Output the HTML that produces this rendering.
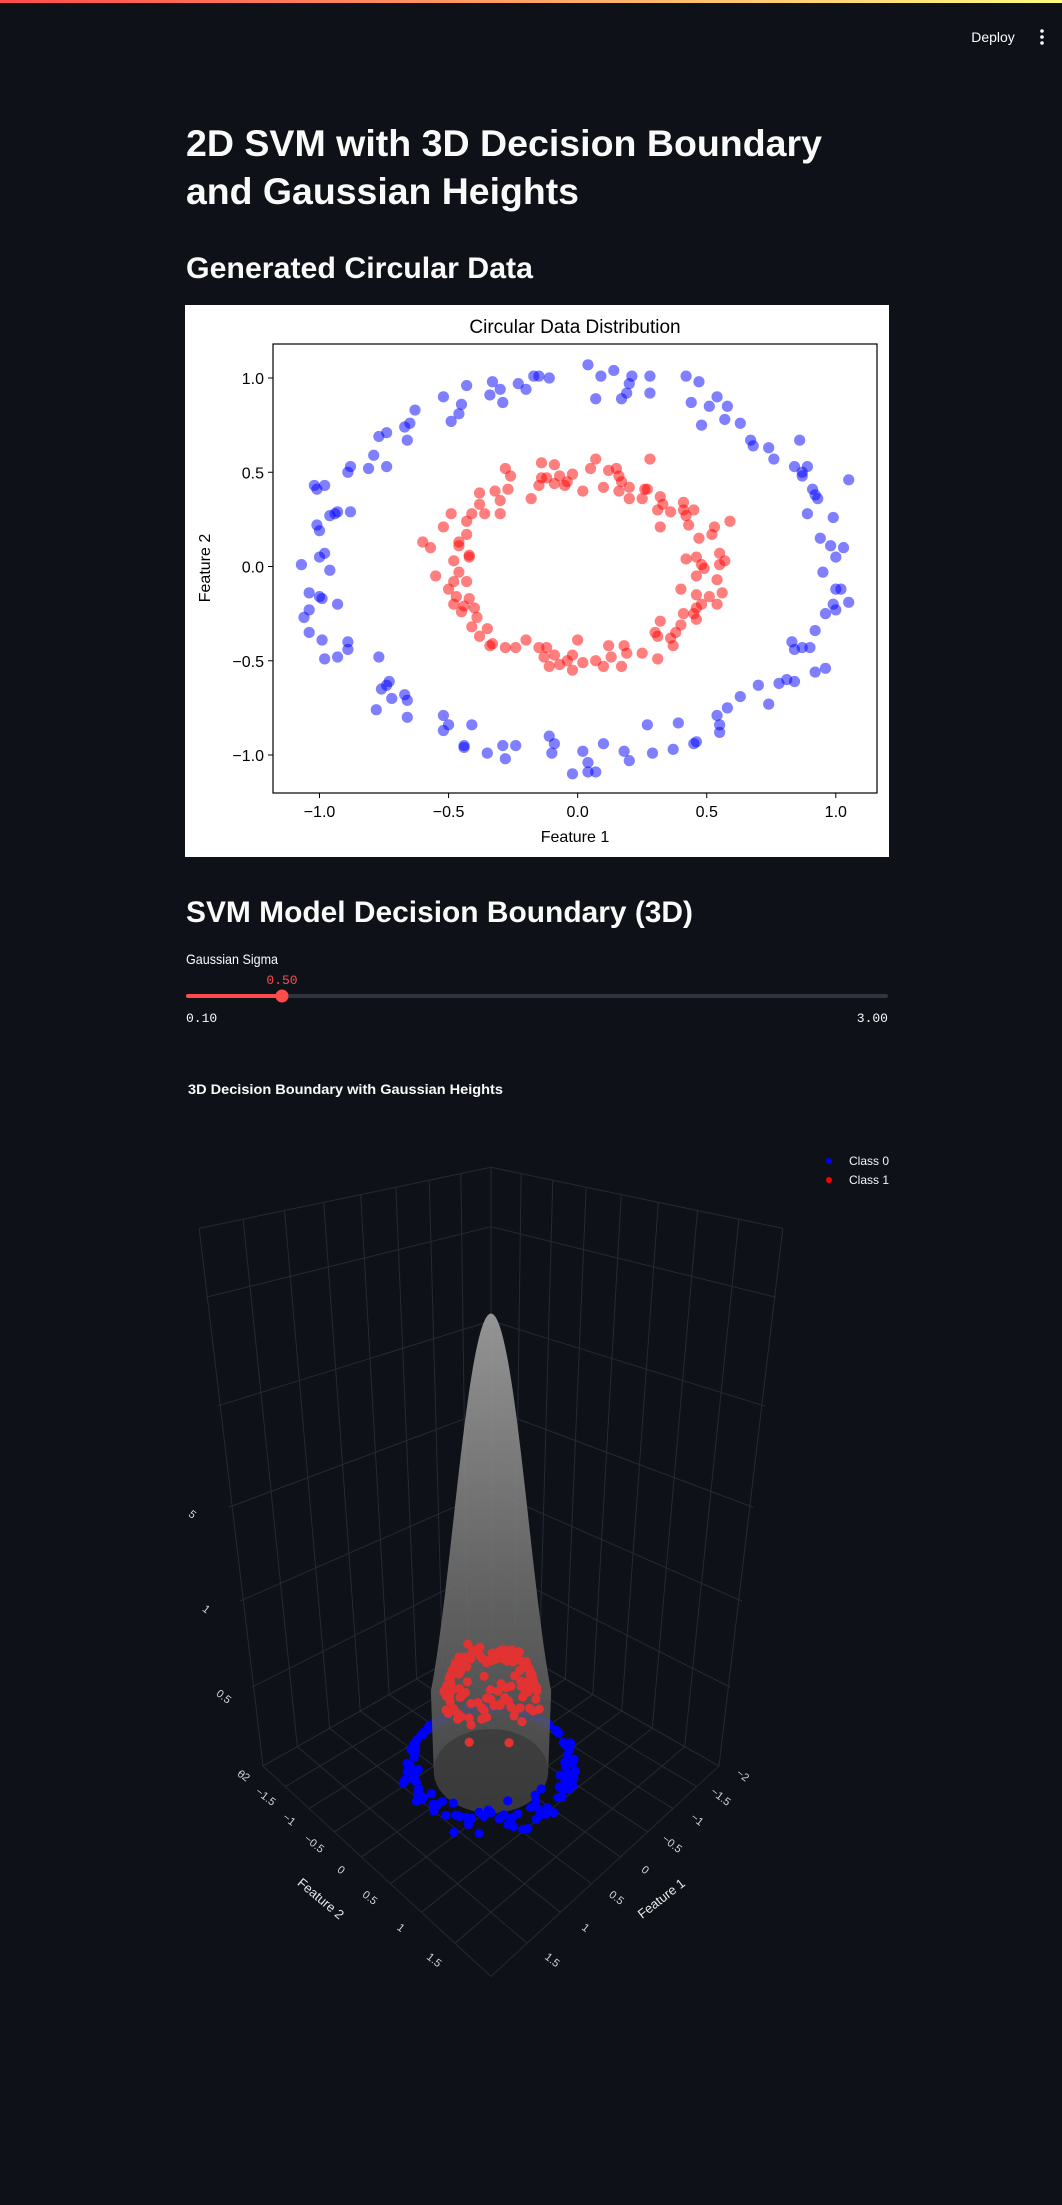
<!DOCTYPE html>
<html><head><meta charset="utf-8"><style>
html,body{margin:0;padding:0;background:#0e1117;}
svg{display:block;}
</style></head><body>
<svg id="page" width="1062" height="2205" viewBox="0 0 1062 2205" xmlns="http://www.w3.org/2000/svg" font-family="'Liberation Sans', sans-serif">
<defs>
<linearGradient id="topbar" x1="0" x2="1" y1="0" y2="0"><stop offset="0" stop-color="#ff4b4b"/><stop offset="1" stop-color="#fffd80"/></linearGradient>
<linearGradient id="cone" x1="0" x2="0" y1="0" y2="1"><stop offset="0" stop-color="#a6a6a6"/><stop offset="0.55" stop-color="#6e6e6e"/><stop offset="1" stop-color="#4a4a4a"/></linearGradient>
<clipPath id="plotclip"><rect x="188" y="1060" width="700" height="920"/></clipPath>
</defs>
<rect x="0" y="0" width="1062" height="2205" fill="#0e1117"/>
<rect x="0" y="0" width="1062" height="3" fill="url(#topbar)"/>
<text x="993" y="42" fill="#fafafa" font-size="14" text-anchor="middle">Deploy</text>
<g fill="#fafafa">
<circle cx="1042" cy="31" r="1.8"/><circle cx="1042" cy="37" r="1.8"/><circle cx="1042" cy="43" r="1.8"/></g>

<text x="186" y="156" fill="#fafafa" font-size="37" font-weight="bold" textLength="636" lengthAdjust="spacingAndGlyphs">2D SVM with 3D Decision Boundary</text>
<text x="186" y="204" fill="#fafafa" font-size="37" font-weight="bold" textLength="393" lengthAdjust="spacingAndGlyphs">and Gaussian Heights</text>
<text x="186" y="278" fill="#fafafa" font-size="30" font-weight="bold" textLength="347" lengthAdjust="spacingAndGlyphs">Generated Circular Data</text>

<g id="mpl">
<rect x="185" y="305" width="704" height="552" fill="#ffffff"/>
</g>

<text x="186" y="922" fill="#fafafa" font-size="30" font-weight="bold" textLength="507" lengthAdjust="spacingAndGlyphs">SVM Model Decision Boundary (3D)</text>
<text x="186" y="964" fill="#fafafa" font-size="14" textLength="92" lengthAdjust="spacingAndGlyphs">Gaussian Sigma</text>
<g>
<rect x="186" y="994" width="702" height="4" rx="2" fill="#31333f"/>
<rect x="186" y="994" width="96" height="4" rx="2" fill="#ff4b4b"/>
<circle cx="282" cy="996" r="6.5" fill="#ff4b4b"/>
<text x="282" y="984" fill="#ff4b4b" font-size="13" font-family="'Liberation Mono', monospace" text-anchor="middle">0.50</text>
<text x="186" y="1022" fill="#fafafa" font-size="13" font-family="'Liberation Mono', monospace">0.10</text>
<text x="888" y="1022" fill="#fafafa" font-size="13" font-family="'Liberation Mono', monospace" text-anchor="end">3.00</text>
</g>

<g id="plot3d">
<text x="188" y="1094" fill="#fafafa" font-size="14" font-weight="bold" textLength="315" lengthAdjust="spacingAndGlyphs">3D Decision Boundary with Gaussian Heights</text>
<g>
<circle cx="829" cy="1161" r="3" fill="#0000ff"/>
<text x="849" y="1165" fill="#f2f5fa" font-size="12">Class 0</text>
<circle cx="829" cy="1180" r="3" fill="#ff0000"/>
<text x="849" y="1184" fill="#f2f5fa" font-size="12">Class 1</text>
</g>
<g id="scene" clip-path="url(#plotclip)"></g>
</g>
</svg>
<script>
// ---------- data ----------
const class0X = [0.04,0.09,0.14,0.21,0.20,0.19,0.17,0.07,0.28,0.28,0.42,0.47,0.44,0.51,0.54,0.58,0.57,0.48,0.63,0.67,0.68,0.74,0.76,0.86,0.84,0.87,0.87,0.89,0.91,0.92,0.93,0.89,0.99,1.05,0.94,0.98,1.03,1.00,0.95,1.00,1.02,0.99,1.05,1.00,0.96,0.92,0.83,0.84,0.87,0.90,0.96,0.92,0.84,0.81,0.78,0.70,0.74,0.63,0.58,0.54,0.55,0.55,0.46,0.45,0.39,0.37,0.29,0.27,0.20,0.18,0.10,0.07,0.04,0.04,0.02,-0.02,-0.09,-0.10,-0.11,-0.24,-0.29,-0.28,-0.35,-0.44,-0.44,-0.41,-0.50,-0.52,-0.52,-0.66,-0.66,-0.67,-0.72,-0.73,-0.74,-0.76,-0.78,-0.77,-0.93,-0.98,-0.89,-0.89,-0.99,-1.04,-1.06,-1.04,-0.99,-1.00,-1.04,-0.93,-0.96,-0.98,-1.00,-1.07,-1.00,-1.01,-0.96,-0.94,-0.88,-0.93,-1.01,-1.02,-0.98,-0.89,-0.88,-0.81,-0.74,-0.79,-0.77,-0.74,-0.67,-0.65,-0.66,-0.63,-0.49,-0.46,-0.45,-0.52,-0.43,-0.34,-0.33,-0.30,-0.29,-0.23,-0.20,-0.17,-0.15,-0.11];
const class0Y = [1.07,1.01,1.04,1.01,0.97,0.92,0.89,0.89,1.01,0.92,1.01,0.98,0.87,0.85,0.90,0.85,0.78,0.75,0.76,0.67,0.64,0.63,0.57,0.67,0.53,0.50,0.48,0.53,0.41,0.38,0.36,0.28,0.26,0.46,0.15,0.11,0.10,0.05,-0.03,-0.12,-0.12,-0.20,-0.19,-0.23,-0.25,-0.34,-0.40,-0.44,-0.43,-0.43,-0.54,-0.56,-0.61,-0.60,-0.62,-0.63,-0.73,-0.69,-0.75,-0.79,-0.84,-0.88,-0.93,-0.94,-0.83,-0.97,-0.99,-0.84,-1.03,-0.98,-0.94,-1.09,-1.04,-1.09,-0.98,-1.10,-0.94,-0.99,-0.90,-0.95,-0.95,-1.02,-0.99,-0.96,-0.95,-0.84,-0.84,-0.79,-0.87,-0.80,-0.71,-0.68,-0.70,-0.61,-0.63,-0.65,-0.76,-0.48,-0.48,-0.49,-0.44,-0.40,-0.39,-0.35,-0.27,-0.23,-0.17,-0.16,-0.14,-0.20,-0.02,0.07,0.05,0.01,0.19,0.22,0.27,0.28,0.29,0.29,0.41,0.43,0.43,0.50,0.53,0.52,0.53,0.59,0.69,0.71,0.74,0.76,0.67,0.83,0.77,0.81,0.86,0.90,0.96,0.91,0.98,0.94,0.87,0.97,0.94,1.01,1.01,1.00];
const class1X = [0.07,0.05,0.28,0.15,0.12,0.16,0.17,0.20,0.16,0.10,0.02,-0.02,-0.05,-0.04,-0.09,-0.07,-0.12,-0.14,-0.15,-0.18,-0.14,-0.09,-0.28,-0.26,-0.27,-0.32,-0.30,-0.38,-0.38,-0.36,-0.30,-0.41,-0.43,-0.43,-0.46,-0.46,-0.49,-0.52,-0.60,-0.57,-0.42,-0.42,-0.48,-0.46,-0.55,-0.48,-0.43,-0.50,-0.47,-0.48,-0.42,-0.44,-0.45,-0.40,-0.39,-0.41,-0.35,-0.38,-0.34,-0.33,-0.28,-0.24,-0.20,-0.15,-0.12,-0.13,-0.09,-0.11,-0.07,-0.04,-0.02,-0.02,0.00,0.02,0.07,0.10,0.12,0.13,0.17,0.18,0.19,0.25,0.31,0.31,0.30,0.32,0.36,0.37,0.38,0.40,0.41,0.45,0.46,0.46,0.48,0.54,0.46,0.40,0.51,0.56,0.54,0.46,0.48,0.46,0.49,0.42,0.55,0.57,0.55,0.47,0.52,0.53,0.59,0.43,0.42,0.41,0.41,0.45,0.36,0.31,0.32,0.33,0.32,0.26,0.27,0.20,0.25];
const class1Y = [0.57,0.52,0.57,0.52,0.51,0.48,0.45,0.42,0.40,0.42,0.40,0.49,0.43,0.45,0.44,0.48,0.47,0.47,0.43,0.36,0.55,0.54,0.52,0.48,0.41,0.40,0.35,0.39,0.33,0.28,0.28,0.28,0.24,0.17,0.13,0.11,0.28,0.21,0.13,0.10,0.06,0.05,0.03,-0.03,-0.05,-0.08,-0.08,-0.12,-0.16,-0.20,-0.17,-0.21,-0.24,-0.22,-0.27,-0.32,-0.33,-0.37,-0.42,-0.41,-0.43,-0.43,-0.39,-0.43,-0.43,-0.48,-0.47,-0.53,-0.52,-0.50,-0.47,-0.55,-0.39,-0.51,-0.50,-0.53,-0.42,-0.48,-0.53,-0.42,-0.46,-0.46,-0.49,-0.37,-0.35,-0.29,-0.38,-0.42,-0.35,-0.31,-0.25,-0.25,-0.28,-0.22,-0.20,-0.20,-0.15,-0.12,-0.16,-0.14,-0.07,-0.05,0.01,0.05,-0.01,0.04,0.01,0.03,0.07,0.15,0.17,0.21,0.24,0.22,0.27,0.30,0.34,0.30,0.29,0.30,0.21,0.33,0.37,0.41,0.41,0.36,0.36];
const xTicks = [-1.0,-0.5,0.0,0.5,1.0];
const yTicks = [-1.0,-0.5,0.0,0.5,1.0];
const xTickLabels = ["\u22121.0","\u22120.5","0.0","0.5","1.0"];
const yTickLabels = ["\u22121.0","\u22120.5","0.0","0.5","1.0"];
const featTicks3d = [-2,-1.5,-1,-0.5,0,0.5,1,1.5];
const featTickLabels3d = ["\u22122","\u22121.5","\u22121","\u22120.5","0","0.5","1","1.5"];
const zTicks3d = [0,0.5,1,1.5];
const zTickLabels3d = ["0","0.5","1","1.5"];
const sigmaPoints = 0.5, pointScale = 1.05, pointOffset = 0.1;
const peakHeight = 2.45, sigmaSurface = 0.40, surfaceRadius = 0.71;

const NS = "http://www.w3.org/2000/svg";
function mk(tag, attrs, parent){ const e=document.createElementNS(NS,tag); for(const k in attrs) e.setAttribute(k,attrs[k]); parent.appendChild(e); return e; }

// ---------- matplotlib 2D chart ----------
const mpl = document.getElementById('mpl');
const AX = {l:273, r:877, t:344, b:793};
const xs = v => 577.65 + v*258.15;
const ys = v => 566.5 - v*188.5;
const mt = mk('text',{x:575,y:333,'font-size':19,'text-anchor':'middle',fill:'#000'},mpl);
mt.textContent='Circular Data Distribution';


const pts = mk('g',{},mpl);


class0X.forEach((x,i)=>{ const c=mk('circle',{cx:xs(x),cy:ys(class0Y[i]),r:5.6,fill:'#0000ff','fill-opacity':0.5},pts);
   });
class1X.forEach((x,i)=>{ const c=mk('circle',{cx:xs(x),cy:ys(class1Y[i]),r:5.6,fill:'#ff0000','fill-opacity':0.5},pts);
   });
const frame = mk('rect',{x:AX.l,y:AX.t,width:AX.r-AX.l,height:AX.b-AX.t,fill:'none',stroke:'#000','stroke-width':1.2},mpl);


xTicks.forEach((t,i)=>{ const x=xs(t);
 mk('line',{x1:x,x2:x,y1:AX.b,y2:AX.b+5,stroke:'#000','stroke-width':1},mpl);
 const tx=mk('text',{x:x,y:AX.b+24,'font-size':16,'text-anchor':'middle',fill:'#000'},mpl); tx.textContent=xTickLabels[i];
   });
yTicks.forEach((t,i)=>{ const y=ys(t);
 mk('line',{x1:AX.l-5,x2:AX.l,y1:y,y2:y,stroke:'#000','stroke-width':1},mpl);
 const tx=mk('text',{x:AX.l-9,y:y+6,'font-size':16,'text-anchor':'end',fill:'#000'},mpl); tx.textContent=yTickLabels[i];
   });
const xl=mk('text',{x:575,y:842,'font-size':16,'text-anchor':'middle',fill:'#000'},mpl); xl.textContent='Feature 1';
 
const yl=mk('text',{x:0,y:0,'font-size':16,'text-anchor':'middle',fill:'#000',transform:'translate(210,568) rotate(-90)'},mpl); yl.textContent='Feature 2';
 

// ---------- 3D chart ----------
const scene = document.getElementById('scene');
function P(f1,f2,z){ const s=(1+0.1*z)/(1-0.06*(f1+f2)); return [491+s*(-57*f1+57*f2), 1766+s*(40*(f1+f2)-150*z)]; }
const grid = mk('g',{stroke:'#252a32','stroke-width':1,fill:'none'},scene);


function L(a,b){ mk('line',{x1:a[0],y1:a[1],x2:b[0],y2:b[1]},grid); }
const zMax=2.8, gridVals=[-2,-1.5,-1,-0.5,0,0.5,1,1.5,2], zGrid=[0,0.5,1,1.5,2,2.5,zMax];
gridVals.forEach(v=>{ L(P(v,-2,0),P(v,2,0)); L(P(-2,v,0),P(2,v,0));
  L(P(v,-2,0),P(v,-2,zMax)); L(P(-2,v,0),P(-2,v,zMax)); });
zGrid.forEach(z=>{ L(P(-2,-2,z),P(2,-2,z)); L(P(-2,-2,z),P(-2,2,z)); });
// tick labels
featTicks3d.forEach((t,i)=>{
  let p=P(2.3,t,0); let tx=mk('text',{x:p[0],y:p[1],'font-size':11,fill:'#d0d3d8','text-anchor':'middle',transform:`rotate(38 ${p[0]} ${p[1]})`},scene);
  tx.textContent=featTickLabels3d[i];
   
  p=P(t,2.3,0); tx=mk('text',{x:p[0],y:p[1],'font-size':11,fill:'#d0d3d8','text-anchor':'middle',transform:`rotate(38 ${p[0]} ${p[1]})`},scene);
  tx.textContent=featTickLabels3d[i];
   
});
zTicks3d.forEach((z,i)=>{ const x=239-35*z, y=1777-(145*z+20*z*z);
  const tx=mk('text',{x:x,y:y,'font-size':11,fill:'#d0d3d8','text-anchor':'middle',transform:`rotate(38 ${x} ${y})`},scene);
  tx.textContent=zTickLabels3d[i];
    });
let t2=mk('text',{x:318,y:1902,'font-size':13,fill:'#e8eaed','text-anchor':'middle',transform:'rotate(40 318 1902)'},scene); t2.textContent='Feature 2';
 
let t1=mk('text',{x:664,y:1902,'font-size':13,fill:'#e8eaed','text-anchor':'middle',transform:'rotate(-38 664 1902)'},scene); t1.textContent='Feature 1';
 

function dot(x,y,z,color,name){ const p=P(x,y,z); const c=mk('circle',{cx:p[0],cy:p[1],r:4.6,fill:color},scene);
    }
const hgt = (x,y)=> Math.max(0, pointScale*Math.exp(-(x*x+y*y)/(2*sigmaPoints*sigmaPoints)) - pointOffset);
// back blue points
class0X.forEach((x,i)=>{ if(x+class0Y[i]<0) dot(x,class0Y[i],hgt(x,class0Y[i]),'#0000ff','class-0-point-3d'); });
// surface
const cx=491, cyBase=1771, kx=80.6;
let d='', right=[];
d+=`M ${cx-surfaceRadius*kx} ${cyBase}`;
for(let k=0;k<=40;k++){ const r=surfaceRadius*(1-k/40); const z=peakHeight*Math.exp(-r*r/(2*sigmaSurface*sigmaSurface));
  const s=1+0.1*z;
  d+=` L ${cx-r*kx*s} ${cyBase-150*z*s}`; right.unshift(` L ${cx+r*kx*s} ${cyBase-150*z*s}`); }
d+=right.join('')+` L ${cx+surfaceRadius*kx} ${cyBase} A ${surfaceRadius*kx} 42 0 0 1 ${cx-surfaceRadius*kx} ${cyBase} Z`;
const surf=mk('path',{d:d,fill:'url(#cone)','fill-opacity':0.88},scene);


const base=mk('ellipse',{cx:cx,cy:cyBase,rx:surfaceRadius*kx,ry:42,fill:'#333333','fill-opacity':0.6},scene);


class1X.forEach((x,i)=> dot(x,class1Y[i],hgt(x,class1Y[i]),'#e23232','class-1-point-3d'));
class0X.forEach((x,i)=>{ if(x+class0Y[i]>=0) dot(x,class0Y[i],hgt(x,class0Y[i]),'#0000ff','class-0-point-3d'); });
</script>
</body></html>
